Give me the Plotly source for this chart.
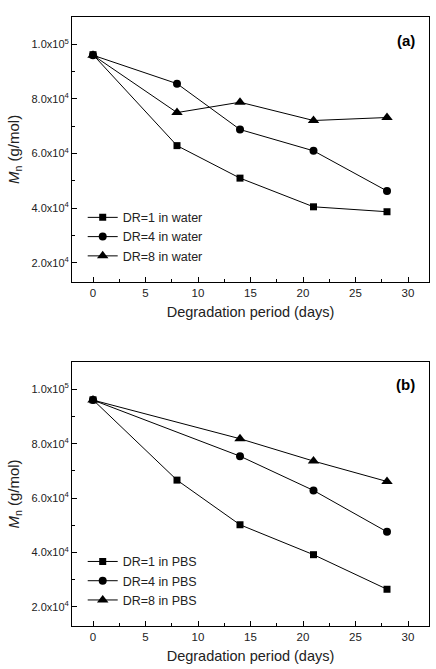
import plotly.graph_objects as go

days_water = [0, 8, 14, 21, 28]
water_dr1 = [96200, 62900, 51000, 40500, 38700]
water_dr4 = [96000, 85600, 68800, 61000, 46300]
water_dr8 = [96000, 75000, 78800, 72100, 73200]

days_pbs1 = [0, 8, 14, 21, 28]
days_pbs = [0, 14, 21, 28]
pbs_dr1 = [96100, 66600, 50200, 39200, 26500]
pbs_dr4 = [96000, 75400, 62800, 47600]
pbs_dr8 = [96000, 81800, 73600, 66100]

ytick_vals = [20000, 40000, 60000, 80000, 100000]
ytick_text = ["2.0x10<sup>4</sup>", "4.0x10<sup>4</sup>", "6.0x10<sup>4</sup>",
              "8.0x10<sup>4</sup>", "1.0x10<sup>5</sup>"]
xtick_vals = [0, 5, 10, 15, 20, 25, 30]

fig = go.Figure()

def add(x, y, name, s, size, xa, ya, leg):
    fig.add_trace(go.Scatter(x=x, y=y, name=name, mode="lines+markers",
                             line=dict(color="black", width=1),
                             marker=dict(symbol=s, size=size, color="black"),
                             xaxis=xa, yaxis=ya, legend=leg))

add(days_water, water_dr1, "DR=1 in water", "square", 7, "x", "y", "legend")
add(days_water, water_dr4, "DR=4 in water", "circle", 8, "x", "y", "legend")
add(days_water, water_dr8, "DR=8 in water", "triangle-up", 10, "x", "y", "legend")
add(days_pbs1, pbs_dr1, "DR=1 in PBS", "square", 7, "x2", "y2", "legend2")
add(days_pbs, pbs_dr4, "DR=4 in PBS", "circle", 8, "x2", "y2", "legend2")
add(days_pbs, pbs_dr8, "DR=8 in PBS", "triangle-up", 10, "x2", "y2", "legend2")

font = "Liberation Sans, Arial, sans-serif"
xcommon = dict(range=[-2, 32], tickvals=xtick_vals, ticks="inside", ticklen=5,
               tickcolor="black", showline=True, linecolor="black", linewidth=1,
               mirror=True, showgrid=False, zeroline=False,
               minor=dict(tickvals=[2.5, 7.5, 12.5, 17.5, 22.5, 27.5], ticks="inside",
                          ticklen=3, tickcolor="black"),
               tickfont=dict(size=11.5, color="#222"),
               title=dict(text="Degradation period (days)", font=dict(size=14.5, color="#222"), standoff=9))
ycommon = dict(range=[13000, 110000], tickvals=ytick_vals, ticktext=ytick_text,
               ticks="inside", ticklen=5, tickcolor="black", showline=True,
               linecolor="black", linewidth=1, mirror=True, showgrid=False, zeroline=False,
               minor=dict(tickvals=[30000, 50000, 70000, 90000], ticks="inside",
                          ticklen=3, tickcolor="black"),
               tickfont=dict(size=11, color="#222"),
               title=dict(text="<i>M</i><sub>n</sub> (g/mol)", font=dict(size=15, color="#222"), standoff=8))

fig.update_layout(
    width=436, height=669,
    margin=dict(l=72, r=7, t=17, b=43),
    paper_bgcolor="white", plot_bgcolor="white",
    font=dict(family=font, color="#222"),
    xaxis=dict(domain=[0, 1], anchor="y", **xcommon),
    yaxis=dict(domain=[0.565, 1], anchor="x", **ycommon),
    xaxis2=dict(domain=[0, 1], anchor="y2", **xcommon),
    yaxis2=dict(domain=[0, 0.4335], anchor="x2", **ycommon),
    legend=dict(x=0.03, y=0.695, xanchor="left", yanchor="top", bgcolor="rgba(0,0,0,0)",
                font=dict(size=12.5, color="#222"), itemwidth=30, tracegroupgap=0),
    legend2=dict(x=0.03, y=0.13, xanchor="left", yanchor="top", bgcolor="rgba(0,0,0,0)",
                 font=dict(size=12.5, color="#222"), itemwidth=30, tracegroupgap=0),
    showlegend=True,
    annotations=[
        dict(text="<b>(a)</b>", x=0.965, y=1 - 24 / 609, xref="paper", yref="paper",
             xanchor="right", yanchor="middle", showarrow=False, font=dict(size=15, color="black")),
        dict(text="<b>(b)</b>", x=0.965, y=(626 - 385) / 609, xref="paper", yref="paper",
             xanchor="right", yanchor="middle", showarrow=False, font=dict(size=15, color="black")),
    ],
)

fig.write_html("out.html")
